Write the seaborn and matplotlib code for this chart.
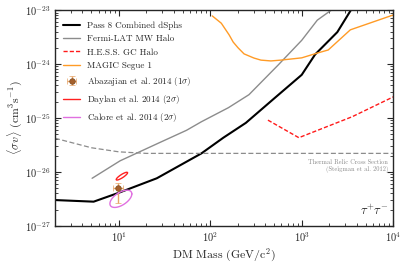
import numpy as np
import pandas as pd
import matplotlib
matplotlib.use("Agg")
import matplotlib.pyplot as plt
import seaborn as sns

# ---- data ----
dsph_mass = [2, 5.3, 10, 26, 80, 139, 245, 500, 1000, 1400, 2450, 3450, 4500]
dsph_sv = [3.0e-27, 2.8e-27, 4.1e-27, 7.6e-27, 2.2e-26, 4.3e-26, 8.1e-26, 2.3e-25,
           6.3e-25, 1.5e-24, 3.9e-24, 1.0e-23, 1.8e-23]

mw_mass = [5.1, 10.3, 27, 55, 80, 158, 265, 550, 1000, 1480, 1950, 2300]
mw_sv = [7.6e-27, 1.6e-26, 3.4e-26, 5.9e-26, 8.5e-26, 1.55e-25, 2.7e-25, 9.5e-25,
         2.75e-24, 6.5e-24, 9.1e-24, 1.1e-23]

hess_mass = [427, 930, 3550, 10000]
hess_sv = [9.1e-26, 4.3e-26, 1.05e-25, 2.45e-25]

magic_mass = [105, 132, 161, 178, 201, 234, 300, 358, 460, 590, 1000, 1490, 1950,
              3400, 10000]
magic_sv = [7.8e-24, 5.7e-24, 3.45e-24, 2.55e-24, 2.0e-24, 1.54e-24, 1.29e-24,
            1.18e-24, 1.14e-24, 1.18e-24, 1.3e-24, 1.6e-24, 1.82e-24, 4.3e-24, 8.1e-24]

relic_mass = [2, 5, 10, 20, 100, 10000]
relic_sv = [4.2e-26, 2.8e-26, 2.35e-26, 2.2e-26, 2.2e-26, 2.2e-26]

# Abazajian et al. 2014 best fit and errors
aba_mass = 9.75
aba_sv = 5.0e-27
aba_mass_err = [[1.15], [1.35]]
aba_sv_err = [[2.4e-27], [1.1e-27]]

# Ellipses (log10 mass centre, log10 sv centre, half-widths in decades, tilt phase)
daylan_ell = dict(cx=1.033, cy=-26.08, ax=0.062, ay=0.072, phi=1.05)
calore_ell = dict(cx=1.022, cy=-26.50, ax=0.12, ay=0.16, phi=0.6)

# ---- style ----
sns.set_theme(style="ticks")
plt.rcParams.update({
    "font.family": "serif",
    "font.serif": ["cmr10", "DejaVu Serif"],
    "mathtext.fontset": "cm",
    "axes.formatter.use_mathtext": True,
    "axes.unicode_minus": False,
})

fig = plt.figure(figsize=(4.07, 2.65), dpi=100)
ax = fig.add_axes([0.135, 0.148, 0.831, 0.814])

def df(m, s):
    return pd.DataFrame({"m": m, "s": s})

sns.lineplot(data=df(dsph_mass, dsph_sv), x="m", y="s", ax=ax, color="black",
             lw=1.5, label="Pass 8 Combined dSphs", sort=False)
sns.lineplot(data=df(mw_mass, mw_sv), x="m", y="s", ax=ax, color="#8c8c8c",
             lw=1.0, label="Fermi-LAT MW Halo", sort=False)
sns.lineplot(data=df(hess_mass, hess_sv), x="m", y="s", ax=ax, color="#ff1a1a",
             lw=1.0, label="H.E.S.S. GC Halo", sort=False)
ax.lines[-1].set_linestyle((0, (3, 1.5)))
sns.lineplot(data=df(magic_mass, magic_sv), x="m", y="s", ax=ax, color="#ff9b26",
             lw=1.0, label="MAGIC Segue 1", sort=False)
sns.lineplot(data=df(relic_mass, relic_sv), x="m", y="s", ax=ax, color="#8c8c8c",
             lw=0.9, sort=False)
ax.lines[-1].set_linestyle((0, (4, 2)))

ax.errorbar([aba_mass], [aba_sv], xerr=aba_mass_err, yerr=aba_sv_err, fmt="o",
            color="#a5602c", ecolor="#e7a466", ms=4, mec="#7a4a20", mew=0.5,
            elinewidth=1.0, capsize=2, label=r"Abazajian et al. 2014 ($1\sigma$)")

t = np.linspace(0, 2 * np.pi, 200)
for e, col, lab in [(daylan_ell, "#ff2020", r"Daylan et al. 2014 ($2\sigma$)"),
                    (calore_ell, "#e070e0", r"Calore et al. 2014 ($2\sigma$)")]:
    lx = e["cx"] + e["ax"] * np.cos(t)
    ly = e["cy"] + e["ay"] * np.sin(t + e["phi"])
    ax.plot(10 ** lx, 10 ** ly, color=col, lw=1.0, label=lab)

ax.set_xscale("log")
ax.set_yscale("log")
ax.set_xlim(2, 1e4)
ax.set_ylim(1e-27, 1e-23)
ax.set_xlabel(r"DM Mass (GeV/c$^2$)", fontsize=8.5, labelpad=2)
ax.set_ylabel(r"$\langle\sigma v\rangle$ (cm$^3$s$^{-1}$)", fontsize=8.5, labelpad=1)
ax.tick_params(which="both", direction="in", top=True, right=True, labelsize=7.5)
ax.tick_params(which="major", length=4, width=0.8, pad=3)
ax.tick_params(which="minor", length=2, width=0.6)
for sp in ax.spines.values():
    sp.set_linewidth(1.0)

ax.text(0.985, 0.295, "Thermal Relic Cross Section", transform=ax.transAxes,
        ha="right", va="center", fontsize=4.6, color="#8c8c8c")
ax.text(0.985, 0.262, "(Steigman et al. 2012)", transform=ax.transAxes,
        ha="right", va="center", fontsize=4.6, color="#8c8c8c")
ax.text(0.985, 0.07, r"$\tau^{+}\tau^{-}$", transform=ax.transAxes,
        ha="right", va="center", fontsize=9)

handles, labels = ax.get_legend_handles_labels()
order = ["Pass 8 Combined dSphs", "Fermi-LAT MW Halo", "H.E.S.S. GC Halo",
         "MAGIC Segue 1", r"Abazajian et al. 2014 ($1\sigma$)",
         r"Daylan et al. 2014 ($2\sigma$)", r"Calore et al. 2014 ($2\sigma$)"]
hmap = dict(zip(labels, handles))
ax.legend([hmap[l] for l in order], order, loc="upper left",
          bbox_to_anchor=(0.0, 0.985), frameon=False,
          fontsize=6.5, handlelength=1.9, labelspacing=0.55, handletextpad=0.8,
          borderaxespad=0.5)

fig.savefig("out.png", dpi=100)
